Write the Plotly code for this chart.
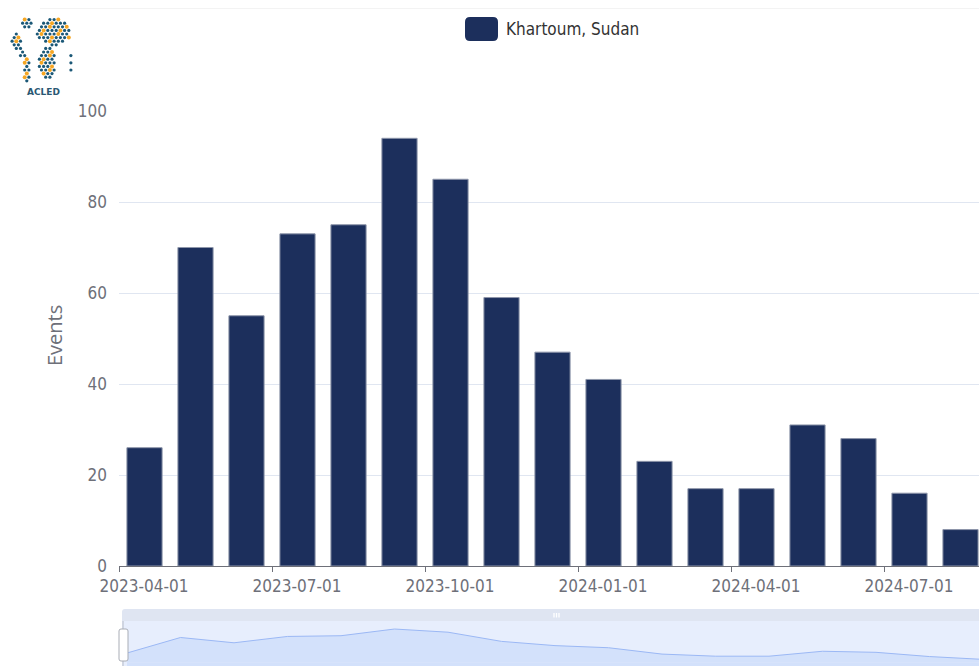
import base64
import plotly.graph_objects as go

# ---------------- data ----------------
months = ["2023-04", "2023-05", "2023-06", "2023-07", "2023-08", "2023-09",
          "2023-10", "2023-11", "2023-12", "2024-01", "2024-02", "2024-03",
          "2024-04", "2024-05", "2024-06", "2024-07", "2024-08"]
events = [26, 70, 55, 73, 75, 94, 85, 59, 47, 41, 23, 17, 17, 31, 28, 16, 8]
series_name = "Khartoum, Sudan"
y_ticks = [0, 20, 40, 60, 80, 100]
label_step = 3

W, H = 979, 666
OFF = 0  # page body margin removed via post_script
RIGHT = 979  # visible right edge (screen px)
def PX(x): return (x - OFF) / W
def PY(y): return 1 - (y - OFF) / H

FONT = "Liberation Sans Narrow, DejaVu Sans Condensed, Roboto, sans-serif"
GRAY = "#6E7079"
BAR = "#1c2f5c"

idx = list(range(len(months)))
tick_idx = idx[::label_step]
tickvals = [i - 0.5 for i in tick_idx]
ticktext = [months[i] + "-01" for i in tick_idx]

# main plot geometry (screen px)
x0_px, cat_px = 119, 51.0
x_end = -0.5 + (RIGHT - x0_px) / cat_px

fig = go.Figure()
fig.add_trace(go.Bar(
    x=idx, y=events, name=series_name, width=0.69,
    marker=dict(color=BAR, line=dict(color="#8e96aa", width=1)),
    xaxis="x", yaxis="y", showlegend=False,
    hovertext=months, hovertemplate="%{hovertext}: %{y}<extra></extra>",
))

# slider mini chart
s_x0, s_step = 127, 53.5
s_range = [(122 - s_x0) / s_step, (RIGHT - s_x0) / s_step]
s_base_px, s_scale = 662.2, 24 / 68
s_yrange = [-(H + OFF - s_base_px) / s_scale, (s_base_px - 621) / s_scale]
fig.add_trace(go.Scatter(
    x=idx, y=events, mode="lines", fill="tozeroy",
    line=dict(color="#9bb8f5", width=1), fillcolor="#d3e1fb",
    xaxis="x2", yaxis="y2", showlegend=False, hoverinfo="skip",
))

shapes = []
# faint top border
shapes.append(dict(type="line", xref="paper", yref="paper",
                   x0=PX(40), x1=PX(RIGHT), y0=PY(8.5), y1=PY(8.5),
                   line=dict(color="#f3f3f3", width=1)))
# slider background
shapes.append(dict(type="rect", xref="paper", yref="paper",
                   x0=PX(122), x1=PX(RIGHT), y0=0, y1=PY(621),
                   fillcolor="#e7eefd", line=dict(width=0), layer="below"))
shapes.append(dict(type="path", xref="paper", yref="paper",
                   path=f"M {PX(122)},{PY(621)} L {PX(122)},{PY(612)} Q {PX(122)},{PY(609)} {PX(125)},{PY(609)} L {PX(RIGHT)},{PY(609)} L {PX(RIGHT)},{PY(621)} Z",
                   fillcolor="#dfe5f2", line=dict(width=0)))
for xx in (554, 556.5, 559):
    shapes.append(dict(type="line", xref="paper", yref="paper",
                       x0=PX(xx), x1=PX(xx), y0=PY(613), y1=PY(617.5),
                       line=dict(color="#ffffff", width=1.3)))
# fill beneath zero of mini chart
shapes.append(dict(type="rect", xref="x2", yref="y2",
                   x0=0, x1=len(months) - 1, y0=s_yrange[0], y1=0,
                   fillcolor="#d3e1fb", line=dict(width=0)))
# handle
shapes.append(dict(type="line", xref="paper", yref="paper",
                   x0=PX(123), x1=PX(123), y0=PY(621), y1=0,
                   line=dict(color="#b8bcc6", width=1)))
shapes.append(dict(type="path", xref="paper", yref="paper",
                   path=(f"M {PX(121)},{PY(629)} L {PX(126)},{PY(629)} Q {PX(128)},{PY(629)} {PX(128)},{PY(631)} "
                         f"L {PX(128)},{PY(659)} Q {PX(128)},{PY(661)} {PX(126)},{PY(661)} L {PX(121)},{PY(661)} "
                         f"Q {PX(119)},{PY(661)} {PX(119)},{PY(659)} L {PX(119)},{PY(631)} Q {PX(119)},{PY(629)} {PX(121)},{PY(629)} Z"),
                   fillcolor="#ffffff", line=dict(color="#a9adb6", width=1)))
# legend swatch
lx0, lx1, ly0, ly1, r = 465, 498, 17, 41, 5
shapes.append(dict(type="path", xref="paper", yref="paper",
                   path=(f"M {PX(lx0+r)},{PY(ly0)} L {PX(lx1-r)},{PY(ly0)} Q {PX(lx1)},{PY(ly0)} {PX(lx1)},{PY(ly0+r)} "
                         f"L {PX(lx1)},{PY(ly1-r)} Q {PX(lx1)},{PY(ly1)} {PX(lx1-r)},{PY(ly1)} L {PX(lx0+r)},{PY(ly1)} "
                         f"Q {PX(lx0)},{PY(ly1)} {PX(lx0)},{PY(ly1-r)} L {PX(lx0)},{PY(ly0+r)} Q {PX(lx0)},{PY(ly0)} {PX(lx0+r)},{PY(ly0)} Z"),
                   fillcolor=BAR, line=dict(width=0)))

annotations = [
    dict(text=series_name, xref="paper", yref="paper", x=PX(504), y=PY(29),
         xanchor="left", yanchor="middle", showarrow=False,
         font=dict(family=FONT, size=17, color="#333333")),
    dict(text="Events", xref="paper", yref="paper", x=PX(55), y=PY(336),
         xanchor="center", yanchor="middle", showarrow=False, textangle=-90,
         font=dict(family="Open Sans, sans-serif", size=20, color=GRAY)),
    dict(text="<b>ACLED</b>", xref="paper", yref="paper", x=PX(43), y=PY(91.5),
         xanchor="center", yanchor="middle", showarrow=False,
         font=dict(family="DejaVu Sans, sans-serif", size=9, color="#2a5873")),
]

# ---------- logo (dot world map, screen coords) ----------
def in_land(x, y):
    regions = [(26, 23, 6, 6), (17, 42, 5, 10), (24, 55, 4, 4), (27, 70, 4, 12),
               (54, 32, 17, 13), (47, 63, 9, 17), (71, 63, 1.8, 9)]
    for cx, cy, rx, ry in regions:
        if ((x - cx) / rx) ** 2 + ((y - cy) / ry) ** 2 <= 1:
            return True
    return False

IMG_X, IMG_Y, IMG_W, IMG_H = 8, 14, 68, 72
circles = []
for j in range(0, 20):
    for i in range(0, 18):
        x = 10 + i * 4.2 + (2.1 if j % 2 else 0)
        y = 16 + j * 3.6
        if in_land(x, y):
            orange = (i * 7 + j * 3) % 4 == 0
            col = "#f5a623" if orange else "#1b5877"
            rr = 2.0 if orange else 1.6
            circles.append(f'<circle cx="{x-IMG_X:.1f}" cy="{y-IMG_Y:.1f}" r="{rr}" fill="{col}"/>')
svg = (f'<svg xmlns="http://www.w3.org/2000/svg" width="{IMG_W}" height="{IMG_H}" viewBox="0 0 {IMG_W} {IMG_H}">'
       + "".join(circles) + "</svg>")
logo_src = "data:image/svg+xml;base64," + base64.b64encode(svg.encode()).decode()

fig.update_layout(
    width=W, height=H,
    margin=dict(l=0, r=0, t=0, b=0),
    paper_bgcolor="white", plot_bgcolor="white",
    bargap=0.31,
    xaxis=dict(domain=[PX(x0_px), PX(RIGHT)], range=[-0.5, x_end], tickmode="array",
               tickvals=tickvals, ticktext=ticktext, ticklabelshift=25,
               ticks="outside", ticklen=5, tickcolor=GRAY, tickwidth=1,
               showline=True, linecolor=GRAY, linewidth=1, showgrid=False,
               zeroline=False, automargin=False, fixedrange=True,
               tickfont=dict(family=FONT, size=17, color=GRAY)),
    yaxis=dict(domain=[PY(566), PY(111)], range=[0, 100], tickmode="array",
               tickvals=y_ticks, showgrid=True, gridcolor="#E0E6F1",
               zeroline=False, showline=False, ticks="", ticklabelstandoff=11,
               automargin=False, fixedrange=True,
               tickfont=dict(family=FONT, size=17, color=GRAY)),
    xaxis2=dict(domain=[PX(122), PX(RIGHT)], range=s_range, visible=False, fixedrange=True),
    yaxis2=dict(domain=[0, PY(621)], range=s_yrange, visible=False, fixedrange=True),
    shapes=shapes,
    annotations=annotations,
    images=[dict(source=logo_src, xref="paper", yref="paper", x=PX(IMG_X), y=PY(IMG_Y),
                 sizex=IMG_W / W, sizey=IMG_H / H, xanchor="left", yanchor="top",
                 sizing="stretch", layer="above")],
    showlegend=False,
)

fig.write_html("out.html", config={"displayModeBar": False},
               post_script="document.body.style.margin='0';document.body.style.overflow='hidden';")
